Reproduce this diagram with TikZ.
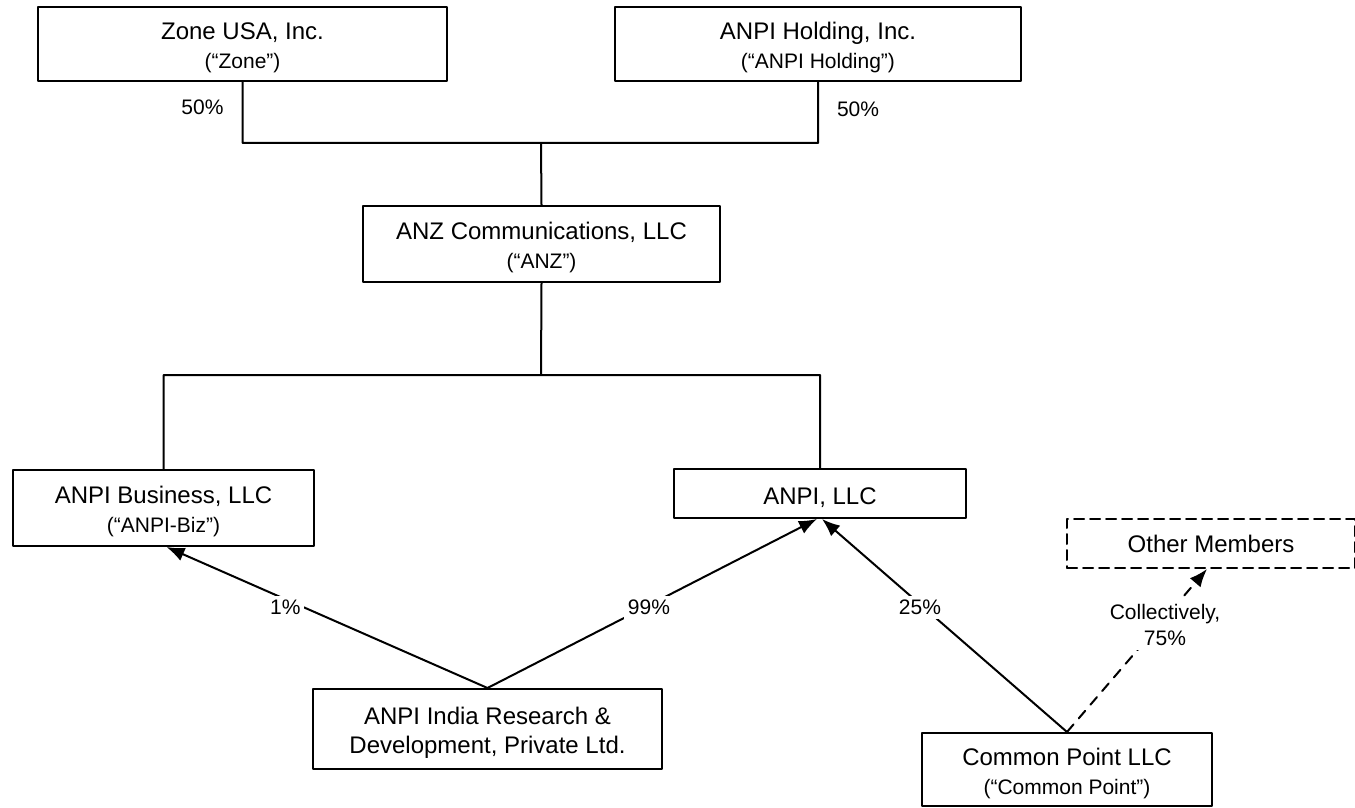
\documentclass[tikz,border=0pt]{standalone}
\usepackage{fontspec}
\setmainfont{Liberation Sans}
\usetikzlibrary{positioning,arrows.meta}
\newcommand\subline{\fontsize{10.5}{13}\selectfont}
\newcommand\boxstrut{\rule{0pt}{12.3pt}}
\begin{document}
\begin{tikzpicture}[x=0.5pt, y=-0.5pt, line cap=round, line join=round, line width=1pt,
	font=\fontsize{12}{14.5}\selectfont,
	box/.style={draw, align=center, inner sep=0pt, minimum height=37pt},
	pct/.style={font=\subline, fill=white, inner sep=2pt, align=center},
	own/.style={-{Latex[length=9pt,width=7pt]}}]
	\useasboundingbox (0,0) rectangle (1355,808);
	\node[box, minimum width=204.5pt] (zone) at (242.5,44) {\boxstrut Zone USA, Inc.\\{\subline (“Zone”)}};
	\node[box, minimum width=203pt] (holding) at (818,44) {\boxstrut ANPI Holding, Inc.\\{\subline (“ANPI Holding”)}};
	\node[box, minimum width=178.5pt, minimum height=38pt] (anz) at (541.5,244) {\boxstrut ANZ Communications, LLC\\{\subline (“ANZ”)}};
	\node[box, minimum width=150.5pt, minimum height=38pt] (biz) at (163.5,508) {\boxstrut ANPI Business, LLC\\{\subline (“ANPI-Biz”)}};
	\node[box, minimum width=146pt, minimum height=24.5pt] (llc) at (820,493.5) {\boxstrut ANPI, LLC};
	\node[box, dash pattern=on 5pt off 3pt, minimum width=144pt, minimum height=24.5pt] (other) at (1211,543.5) {Other Members};
	\node[box, minimum width=174.5pt, minimum height=40pt] (india) at (487.5,729) {\boxstrut ANPI India Research \&\\Development, Private Ltd.};
	\node[box, minimum width=145pt, minimum height=36.5pt] (common) at (1067,769.5) {\boxstrut Common Point LLC\\{\subline (“Common Point”)}};
	\path (541,143) coordinate (topbus)
	(541,375) coordinate (midbus);
	\draw (zone.south) |- node[pct, pos=.21, left=7pt]{50\%} (holding.south |- topbus)
	-- node[pct, pos=.56, right=7pt]{50\%} (holding.south)
	(topbus) -- (anz.north)
	(anz.south) -- (midbus)
	(biz.north) |- (llc.north |- midbus) -- (llc.north);
	\draw[own] (india.north) -- node[pct, pos=.63, yshift=-4pt]{1\%} ([xshift=1.5pt]biz.south);
	\draw[own] (india.north) -- node[pct, pos=.49, yshift=-1pt]{99\%} ([xshift=-1.5pt]llc.south);
	\draw[own] (common.north) -- node[pct, pos=.6, yshift=-1.5pt]{25\%} ([xshift=1pt]llc.south);
	\draw[own, dash pattern=on 5pt off 4pt] (common.north) -- node[pct, pos=.7, yshift=-3.5pt]{Collectively,\\75\%} ([xshift=-2pt]other.south);
\end{tikzpicture}
\end{document}
